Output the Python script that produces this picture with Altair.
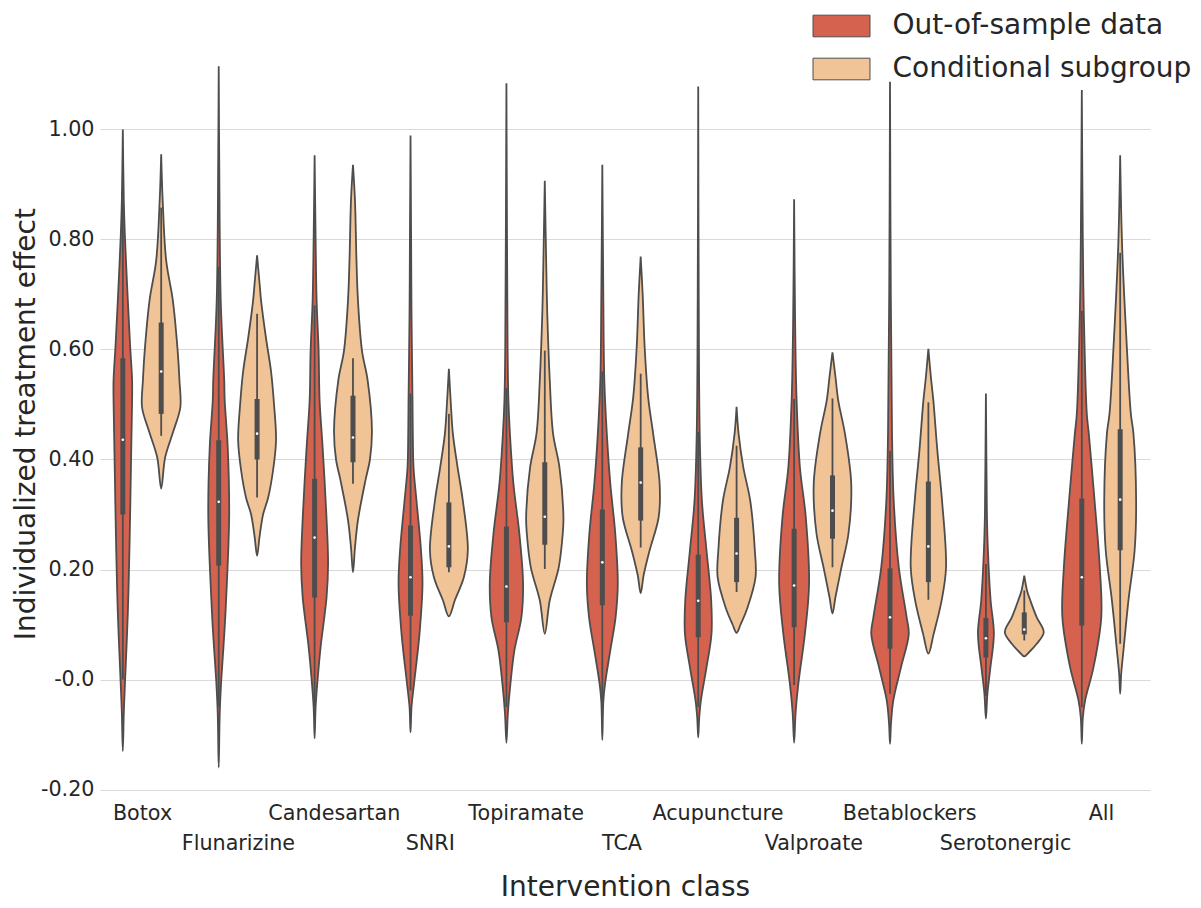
import altair as alt
import pandas as pd

CATEGORIES = ["Botox", "Flunarizine", "Candesartan", "SNRI", "Topiramate", "TCA",
              "Acupuncture", "Valproate", "Betablockers", "Serotonergic", "All"]
HUES = ["Out-of-sample data", "Conditional subgroup"]
COLORS = ["#d5624f", "#f0c496"]

# Violin outlines: effect values (top to bottom) and relative density
OOS_V = [
    [1.00, 0.87, 0.81, 0.69, 0.607, 0.544, 0.507, 0.404, 0.241, 0.12, 0.0, -0.06, -0.13],
    [1.115, 0.95, 0.69, 0.544, 0.507, 0.423, 0.302, 0.18, 0.089, -0.002, -0.062, -0.16],
    [0.953, 0.80, 0.689, 0.598, 0.507, 0.423, 0.302, 0.21, 0.15, 0.059, 0.0, -0.05, -0.107],
    [0.989, 0.80, 0.665, 0.507, 0.447, 0.386, 0.325, 0.235, 0.174, 0.083, -0.008, -0.05, -0.096],
    [1.084, 0.80, 0.60, 0.507, 0.447, 0.356, 0.265, 0.174, 0.113, 0.053, -0.008, -0.06, -0.115],
    [0.936, 0.70, 0.544, 0.447, 0.356, 0.265, 0.174, 0.113, 0.053, -0.008, -0.04, -0.11],
    [1.078, 0.70, 0.447, 0.325, 0.235, 0.144, 0.083, 0.022, -0.038, -0.07, -0.105],
    [0.873, 0.65, 0.507, 0.386, 0.295, 0.174, 0.083, -0.008, -0.06, -0.115],
    [1.087, 0.70, 0.447, 0.325, 0.204, 0.113, 0.083, 0.022, -0.038, -0.08, -0.117],
    [0.52, 0.40, 0.30, 0.235, 0.144, 0.083, 0.022, -0.026, -0.071],
    [1.072, 0.80, 0.665, 0.483, 0.447, 0.325, 0.204, 0.113, 0.022, -0.038, -0.07, -0.117],
]
OOS_D = [
    [0, 1, 2, 5, 7.3, 9.3, 9.3, 8.3, 6.7, 5, 2.3, 1, 0],
    [0, 0.5, 2, 5.5, 6, 9, 10.5, 8.3, 5.8, 2.5, 1, 0],
    [0, 1, 2, 4, 5, 8, 11.7, 13.5, 12, 6, 3, 1, 0],
    [0, 0.6, 1, 2, 2.3, 3, 6, 10.5, 12, 9, 3.5, 1, 0],
    [0, 0.6, 1.2, 2, 3.5, 7, 13, 16.7, 15, 8, 4, 1.5, 0],
    [0, 1, 2, 4.5, 8, 13, 15.5, 13.3, 8, 2.7, 1, 0],
    [0, 0.5, 1.5, 3.7, 8.3, 13, 13.3, 8.3, 2.7, 1, 0],
    [0, 1, 2.5, 5.8, 11.7, 15, 10.8, 4.2, 1.5, 0],
    [0, 0.8, 2, 3.7, 8.8, 16.7, 18.8, 11, 3.3, 1, 0],
    [0, 0.5, 1, 2, 4.7, 8, 4.5, 1.5, 0],
    [0, 1, 2, 5, 7, 12.8, 18, 19.5, 11.7, 3.3, 1, 0],
]
SUB_V = [
    [0.955, 0.871, 0.762, 0.689, 0.598, 0.544, 0.495, 0.453, 0.404, 0.347],
    [0.771, 0.72, 0.689, 0.62, 0.56, 0.50, 0.435, 0.38, 0.33, 0.30, 0.26, 0.225],
    [0.936, 0.871, 0.762, 0.689, 0.598, 0.544, 0.453, 0.40, 0.362, 0.29, 0.24, 0.195],
    [0.565, 0.50, 0.447, 0.386, 0.325, 0.235, 0.186, 0.144, 0.115],
    [0.907, 0.75, 0.665, 0.544, 0.447, 0.386, 0.295, 0.265, 0.204, 0.144, 0.083],
    [0.769, 0.70, 0.604, 0.513, 0.447, 0.356, 0.295, 0.235, 0.19, 0.157],
    [0.496, 0.447, 0.386, 0.325, 0.235, 0.186, 0.131, 0.10, 0.085],
    [0.595, 0.55, 0.507, 0.447, 0.356, 0.265, 0.204, 0.15, 0.12],
    [0.601, 0.55, 0.507, 0.416, 0.325, 0.204, 0.144, 0.083, 0.047],
    [0.189, 0.16, 0.144, 0.113, 0.086, 0.065, 0.05, 0.042],
    [0.953, 0.785, 0.604, 0.483, 0.447, 0.325, 0.235, 0.144, 0.053, 0.01, -0.026],
]
SUB_D = [
    [0, 1.5, 5, 11.7, 16.5, 18.3, 19.2, 12.5, 4, 0],
    [0, 2.5, 4, 9, 14, 17, 19, 16, 11, 6, 2.5, 0],
    [0, 2, 3.5, 5, 9, 14.7, 19, 17, 12.5, 5, 2, 0],
    [0, 2, 4, 8.7, 14, 19, 15, 6, 0],
    [0, 1.5, 2.5, 5, 8.3, 14.7, 18.7, 18, 14, 5, 0],
    [0, 2, 4, 7.5, 12.5, 19, 18, 9, 3, 0],
    [0, 2, 6.7, 13.7, 18.3, 19, 11, 4, 0],
    [0, 3, 5.8, 12.5, 18.8, 16, 9, 3, 0],
    [0, 2.5, 5, 9, 13.7, 17.7, 13.3, 5.3, 0],
    [0, 3, 6, 12.5, 19.5, 12.5, 5, 0],
    [0, 2, 6.7, 10.7, 13.3, 16, 14.5, 8.3, 3.3, 1, 0],
]

# Inner box statistics
OOS_Q1 = [0.30, 0.207, 0.149, 0.116, 0.104, 0.135, 0.077, 0.095, 0.056, 0.04, 0.098]
OOS_MED = [0.436, 0.323, 0.258, 0.186, 0.169, 0.213, 0.143, 0.171, 0.113, 0.075, 0.186]
OOS_Q3 = [0.584, 0.435, 0.365, 0.28, 0.278, 0.309, 0.227, 0.274, 0.202, 0.112, 0.329]
OOS_WLO = [0.0, -0.05, -0.05, -0.02, -0.05, -0.04, -0.05, -0.01, -0.026, -0.03, -0.05]
OOS_WHI = [0.87, 0.75, 0.68, 0.52, 0.53, 0.56, 0.45, 0.51, 0.416, 0.21, 0.67]
SUB_Q1 = [0.483, 0.40, 0.395, 0.204, 0.245, 0.289, 0.177, 0.256, 0.177, 0.082, 0.235]
SUB_MED = [0.56, 0.447, 0.44, 0.242, 0.296, 0.358, 0.229, 0.307, 0.242, 0.091, 0.327]
SUB_Q3 = [0.649, 0.51, 0.516, 0.322, 0.395, 0.422, 0.294, 0.371, 0.36, 0.122, 0.455]
SUB_WLO = [0.443, 0.331, 0.356, 0.195, 0.201, 0.24, 0.159, 0.204, 0.145, 0.071, 0.065]
SUB_WHI = [0.858, 0.665, 0.584, 0.483, 0.598, 0.556, 0.425, 0.511, 0.504, 0.162, 0.776]

# ---- tables: each violin becomes a closed outline (right side down, left side up) ----
dens_rows = []
for i in range(len(CATEGORIES)):
    for side, (V, D) in enumerate([(OOS_V, OOS_D), (SUB_V, SUB_D)]):
        pts = list(zip(V[i], D[i]))
        n = len(pts)
        order = [(j, 1) for j in range(n)] + [(j, -1) for j in range(n - 2, -1, -1)]
        for k, (j, s) in enumerate(order):
            v, d = pts[j]
            dens_rows.append({"cat": i, "side": side, "hue": HUES[side],
                              "vid": f"{i}-{side}", "v": v, "d": d, "s": s, "k": k})
dens = pd.DataFrame(dens_rows)

stat_rows = []
for i in range(len(CATEGORIES)):
    for side, arrs in enumerate([(OOS_Q1, OOS_MED, OOS_Q3, OOS_WLO, OOS_WHI),
                                 (SUB_Q1, SUB_MED, SUB_Q3, SUB_WLO, SUB_WHI)]):
        q1, med, q3, wlo, whi = (a[i] for a in arrs)
        stat_rows.append({"cat": i, "side": side, "hue": HUES[side],
                          "q1": q1, "med": med, "q3": q3, "wlo": wlo, "whi": whi})
stats = pd.DataFrame(stat_rows)

OFFSET = 0.2
WSCALE = 0.0104
XC = f"datum.cat + (datum.side == 0 ? -{OFFSET} : {OFFSET})"

FONT = "DejaVu Sans"
TEXT = "#262626"
LINE = "#4d4d4d"

names_js = "[" + ",".join(f"'{n}'" for n in CATEGORIES) + "]"
x_scale = alt.Scale(domain=[-0.438, 10.511], nice=False, zero=False)
y_scale = alt.Scale(domain=[-0.2, 1.13], nice=False, zero=False)
x_axis = alt.Axis(
    values=list(range(len(CATEGORIES))),
    labelExpr=f"datum.value % 2 == 1 ? ['', {names_js}[datum.value]] : {names_js}[datum.value]",
    labelLineHeight=30, labelBaseline="top", labelAlign="center", labelPadding=14,
    labelOverlap=False, labelFlush=False, labelFontSize=20.7, labelColor=TEXT, labelFont=FONT,
    grid=False, ticks=False, domain=False,
    title="Intervention class", titleFontSize=28, titleFontWeight="normal", titleColor=TEXT,
    titleFont=FONT, titlePadding=20,
)
y_axis = alt.Axis(
    values=[-0.2, 0.0, 0.2, 0.4, 0.6, 0.8, 1.0],
    labelExpr="datum.value == 0 ? '-0.0' : (datum.value < 0 ? '-' + format(-datum.value, '.2f') : format(datum.value, '.2f'))",
    labelFontSize=20.7, labelColor=TEXT, labelFont=FONT, labelPadding=6,
    grid=True, gridColor="#d9d9d9", gridWidth=1.2, ticks=False, domain=False,
    title="Individualized treatment effect", titleFontSize=28, titleFontWeight="normal",
    titleColor=TEXT, titleFont=FONT, titlePadding=0,
)

violins = alt.Chart(dens).transform_calculate(
    xc=XC
).transform_calculate(
    px=f"datum.xc + datum.s * datum.d * {WSCALE}"
).mark_line(
    interpolate="catmull-rom", stroke=LINE, strokeWidth=1.8, strokeJoin="round"
).encode(
    y=alt.Y("v:Q", scale=y_scale, axis=y_axis),
    x=alt.X("px:Q", scale=x_scale, axis=x_axis),
    fill=alt.Fill("hue:N", scale=alt.Scale(domain=HUES, range=COLORS),
                  legend=alt.Legend(
                      title=None, orient="none", direction="vertical",
                      legendX=713, legendY=-47, padding=0,
                      symbolType="M-2,-0.76H2V0.76H-2Z", symbolSize=812,
                      symbolStrokeColor=LINE, symbolStrokeWidth=1, symbolOpacity=1,
                      symbolOffset=13.5, labelOffset=36, rowPadding=14,
                      labelFontSize=28, labelFont=FONT, labelColor=TEXT, labelLimit=500,
                  )),
    detail="vid:N",
    order=alt.Order("k:Q", sort="ascending"),
)

base = alt.Chart(stats).transform_calculate(xc=XC)

whisk = base.mark_rule(color=LINE, strokeWidth=1.8).encode(
    x=alt.X("xc:Q", scale=x_scale, axis=x_axis),
    y=alt.Y("wlo:Q", scale=y_scale, axis=y_axis),
    y2="whi:Q",
)
box = base.mark_rule(color=LINE, strokeWidth=5, strokeCap="butt").encode(
    x=alt.X("xc:Q", scale=x_scale, axis=x_axis),
    y=alt.Y("q1:Q", scale=y_scale, axis=y_axis),
    y2="q3:Q",
)
med = base.mark_point(filled=True, color="white", size=7, opacity=1, strokeWidth=0).encode(
    x=alt.X("xc:Q", scale=x_scale, axis=x_axis),
    y=alt.Y("med:Q", scale=y_scale, axis=y_axis),
)

chart = alt.layer(violins, whisk, box, med).properties(
    width=1050, height=731.5,
    padding={"left": 92, "top": 50, "right": 43, "bottom": 110.5},
    autosize=alt.AutoSizeParams(type="none"),
    background="white",
).configure(font=FONT).configure_view(stroke=None)

chart.save("out.html", embed_options={"renderer": "svg", "actions": False})
